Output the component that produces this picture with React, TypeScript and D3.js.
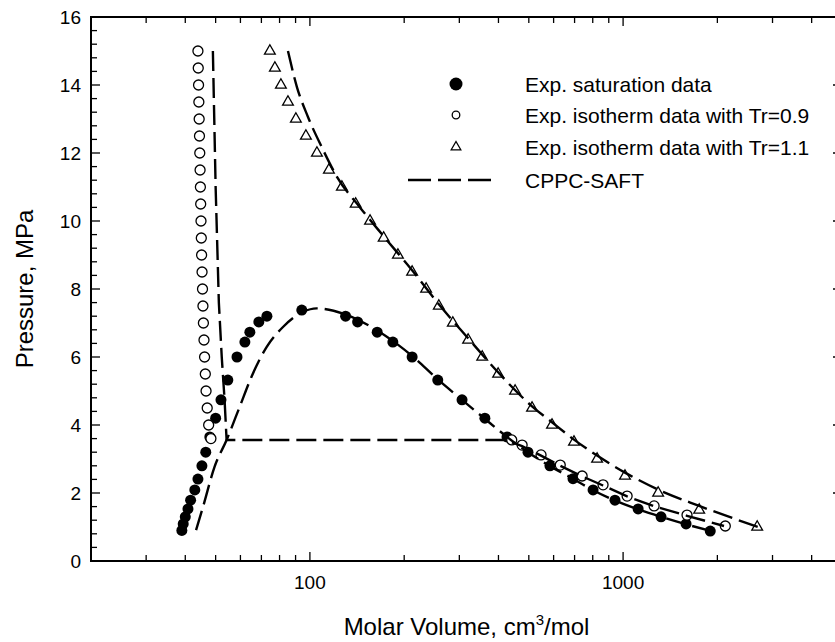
import React from 'react';
import * as d3 from 'd3';

// Experimental saturation data (filled dots)
const satVol = [39.0, 39.4, 40.0, 40.8, 41.6, 42.9, 43.9, 45.2, 46.5, 47.9, 50.0, 52.0, 54.7, 58.5, 62.0, 64.3, 68.7, 72.9, 94.2, 130, 142, 164, 184, 212, 256, 306, 362, 426, 497, 584, 692, 802, 942, 1117, 1322, 1589, 1898];
const satP = [0.9, 1.09, 1.3, 1.53, 1.79, 2.09, 2.41, 2.8, 3.2, 3.65, 4.2, 4.74, 5.32, 6.0, 6.44, 6.73, 7.03, 7.2, 7.38, 7.2, 7.03, 6.73, 6.44, 6.0, 5.32, 4.74, 4.2, 3.65, 3.2, 2.8, 2.42, 2.09, 1.79, 1.53, 1.3, 1.09, 0.88];

// Experimental isotherm Tr=0.9 (open circles)
const iso09Vol = [43.9, 44.0, 44.1, 44.2, 44.3, 44.4, 44.5, 44.6, 44.7, 44.8, 44.9, 45.0, 45.1, 45.25, 45.4, 45.55, 45.7, 45.9, 46.1, 46.35, 46.6, 47.0, 47.5, 48.3, 441, 476, 547, 630, 740, 863, 1030, 1256, 1600, 2120];
const iso09P = [15, 14.5, 14, 13.5, 13, 12.5, 12, 11.5, 11, 10.5, 10, 9.5, 9, 8.5, 8, 7.5, 7, 6.5, 6, 5.5, 5, 4.5, 4, 3.6, 3.56, 3.41, 3.12, 2.82, 2.5, 2.24, 1.91, 1.62, 1.35, 1.03];

// Experimental isotherm Tr=1.1 (open triangles)
const iso11Vol = [74.5, 77.3, 80.8, 85.1, 90.2, 97.1, 105.3, 115, 126.5, 140, 155.6, 172, 191, 212, 235, 258, 286, 320, 355, 399, 452, 512, 593, 697, 826, 1014, 1294, 1750, 2680];
const iso11P = [15, 14.5, 14, 13.5, 13, 12.5, 12, 11.5, 11, 10.5, 10, 9.5, 9, 8.5, 8, 7.5, 7, 6.5, 6, 5.5, 5, 4.5, 4, 3.5, 3, 2.5, 2, 1.5, 1.0];

// CPPC-SAFT model curves
const modelSatVol = [43.3, 45.6, 49.6, 54.2, 59.7, 65.1, 72.8, 82.2, 95.2, 105, 130, 164, 212, 256, 306, 362, 426, 497, 584, 692, 802, 942, 1117, 1322, 1589, 1950];
const modelSatP = [0.91, 1.6, 2.77, 3.56, 4.54, 5.42, 6.3, 6.89, 7.33, 7.43, 7.25, 6.78, 6.03, 5.34, 4.74, 4.18, 3.65, 3.2, 2.79, 2.42, 2.08, 1.78, 1.52, 1.3, 1.08, 0.86];

const modelIso09Vol = [49.0, 50.0, 51.2, 52.3, 53.4, 54.2, 420, 476, 547, 630, 740, 863, 1030, 1256, 1600, 2100];
const modelIso09P = [15, 11, 7.6, 6.0, 4.74, 3.56, 3.56, 3.38, 3.1, 2.8, 2.49, 2.22, 1.9, 1.61, 1.33, 1.03];

const modelIso11Vol = [85.1, 90.9, 98.6, 109, 122, 144.5, 172, 212, 258, 320, 399, 512, 593, 697, 826, 1014, 1294, 1750, 2700];
const modelIso11P = [15, 13.94, 13.06, 12.18, 11.3, 10.4, 9.55, 8.55, 7.55, 6.55, 5.55, 4.55, 4.08, 3.57, 3.1, 2.6, 2.1, 1.62, 1.0];

const yTickLabels = [0, 2, 4, 6, 8, 10, 12, 14, 16];
const xTickLabels = [100, 1000];
const legendLabels = [
  'Exp. saturation data',
  'Exp. isotherm data with Tr=0.9',
  'Exp. isotherm data with Tr=1.1',
  'CPPC-SAFT',
];

const FONT = '"Liberation Sans", Arial, sans-serif';

export default function App() {
  const W = 835;
  const H = 642;
  const left = 91, right = 842, top = 17, bottom = 561;
  const x = d3.scaleLog().domain([20, 5000]).range([left, right]);
  const y = d3.scaleLinear().domain([0, 16]).range([bottom, top]);

  const xAll = x.ticks();
  const xMajor = new Set(xTickLabels);
  const yMinor = d3.range(0, 41).map((i) => +(i * 0.4).toFixed(2));
  const yMajorSet = new Set(yTickLabels);

  const lineLin = d3.line<[number, number]>().x((d) => x(d[0])).y((d) => y(d[1]));
  const lineMono = d3
    .line<[number, number]>()
    .x((d) => x(d[0]))
    .y((d) => y(d[1]))
    .curve(d3.curveMonotoneX);

  const zip = (a: number[], b: number[]) => a.map((v, i) => [v, b[i]] as [number, number]);

  const satModel = zip(modelSatVol, modelSatP);
  const iso09Model = zip(modelIso09Vol, modelIso09P);
  const iso11Model = zip(modelIso11Vol, modelIso11P);

  const tri = d3.symbol(d3.symbolTriangle, 50)() as string;
  const triLeg = d3.symbol(d3.symbolTriangle, 40)() as string;

  const dash = '20,7';
  const lw = 2.4;

  const legX = 456;
  const legRows = [84, 115, 147, 180];
  const legTextX = 525;

  return (
    <svg
      width={W}
      height={H}
      style={{ position: 'absolute', left: 0, top: 0, background: '#fff' }}
      fontFamily={FONT}
    >
      <rect x={0} y={0} width={W} height={H} fill="#fff" />

      {/* markers */}
      <g>
        {satVol.map((v, i) => (
          <circle key={'s' + i} cx={x(v)} cy={y(satP[i])} r={5.5} fill="#000" />
        ))}
        {iso09Vol.map((v, i) => (
          <circle key={'o' + i} cx={x(v)} cy={y(iso09P[i])} r={5} fill="#fff" stroke="#000" strokeWidth={1.3} />
        ))}
        {iso11Vol.map((v, i) => (
          <path
            key={'t' + i}
            d={tri}
            transform={`translate(${x(v)},${y(iso11P[i])})`}
            fill="#fff"
            stroke="#000"
            strokeWidth={1.3}
          />
        ))}
      </g>

      {/* model lines */}
      <g fill="none" stroke="#000" strokeWidth={lw} strokeDasharray={dash}>
        <path d={lineMono(satModel) || ''} />
        <path d={lineLin(iso09Model) || ''} />
        <path d={lineMono(iso11Model) || ''} />
      </g>

      {/* axes frame */}
      <g stroke="#000" strokeWidth={2} fill="none">
        <line x1={left} x2={right} y1={top} y2={top} />
        <line x1={left} x2={right} y1={bottom} y2={bottom} />
        <line x1={left} x2={left} y1={top - 1} y2={bottom + 1} />
        <line x1={right} x2={right} y1={top - 1} y2={bottom + 1} />
      </g>

      {/* ticks */}
      <g stroke="#000" strokeWidth={1.3}>
        {xAll.map((t, i) => {
          const len = xMajor.has(t) ? 9 : 6;
          const px = x(t);
          return (
            <g key={'xt' + i}>
              <line x1={px} x2={px} y1={bottom} y2={bottom - len} />
              <line x1={px} x2={px} y1={top} y2={top + len} />
            </g>
          );
        })}
        {yMinor.map((t, i) => {
          const len = yMajorSet.has(t) ? 9 : 6;
          const py = y(t);
          return (
            <g key={'yt' + i}>
              <line x1={left} x2={left + len} y1={py} y2={py} />
              <line x1={right} x2={right - len} y1={py} y2={py} />
            </g>
          );
        })}
      </g>

      {/* tick labels */}
      <g fontSize={19} fill="#000">
        {yTickLabels.map((t) => (
          <text key={'yl' + t} x={81} y={y(t)} dy="0.36em" textAnchor="end">
            {t}
          </text>
        ))}
        {xTickLabels.map((t) => (
          <text key={'xl' + t} x={x(t)} y={589} textAnchor="middle">
            {t}
          </text>
        ))}
      </g>

      {/* axis titles */}
      <text x={(left + right) / 2} y={635} textAnchor="middle" fontSize={24} fill="#000">
        Molar Volume, cm<tspan dy={-10} fontSize={15}>3</tspan>
        <tspan dy={10}>/mol</tspan>
      </text>
      <text
        transform={`translate(33,${(top + bottom) / 2}) rotate(-90)`}
        textAnchor="middle"
        fontSize={24}
        fill="#000"
      >
        Pressure, MPa
      </text>

      {/* legend */}
      <g>
        <circle cx={legX} cy={legRows[0]} r={6.5} fill="#000" />
        <circle cx={legX} cy={legRows[1]} r={3.8} fill="#fff" stroke="#000" strokeWidth={1.3} />
        <path d={triLeg} transform={`translate(${legX},${legRows[2]})`} fill="#fff" stroke="#000" strokeWidth={1.3} />
        <line
          x1={408}
          x2={493}
          y1={legRows[3]}
          y2={legRows[3]}
          stroke="#000"
          strokeWidth={lw}
          strokeDasharray="23,7"
        />
        {legendLabels.map((l, i) => (
          <text key={'lg' + i} x={legTextX} y={legRows[i]} dy="0.36em" fontSize={21} fill="#000">
            {l}
          </text>
        ))}
      </g>
    </svg>
  );
}
